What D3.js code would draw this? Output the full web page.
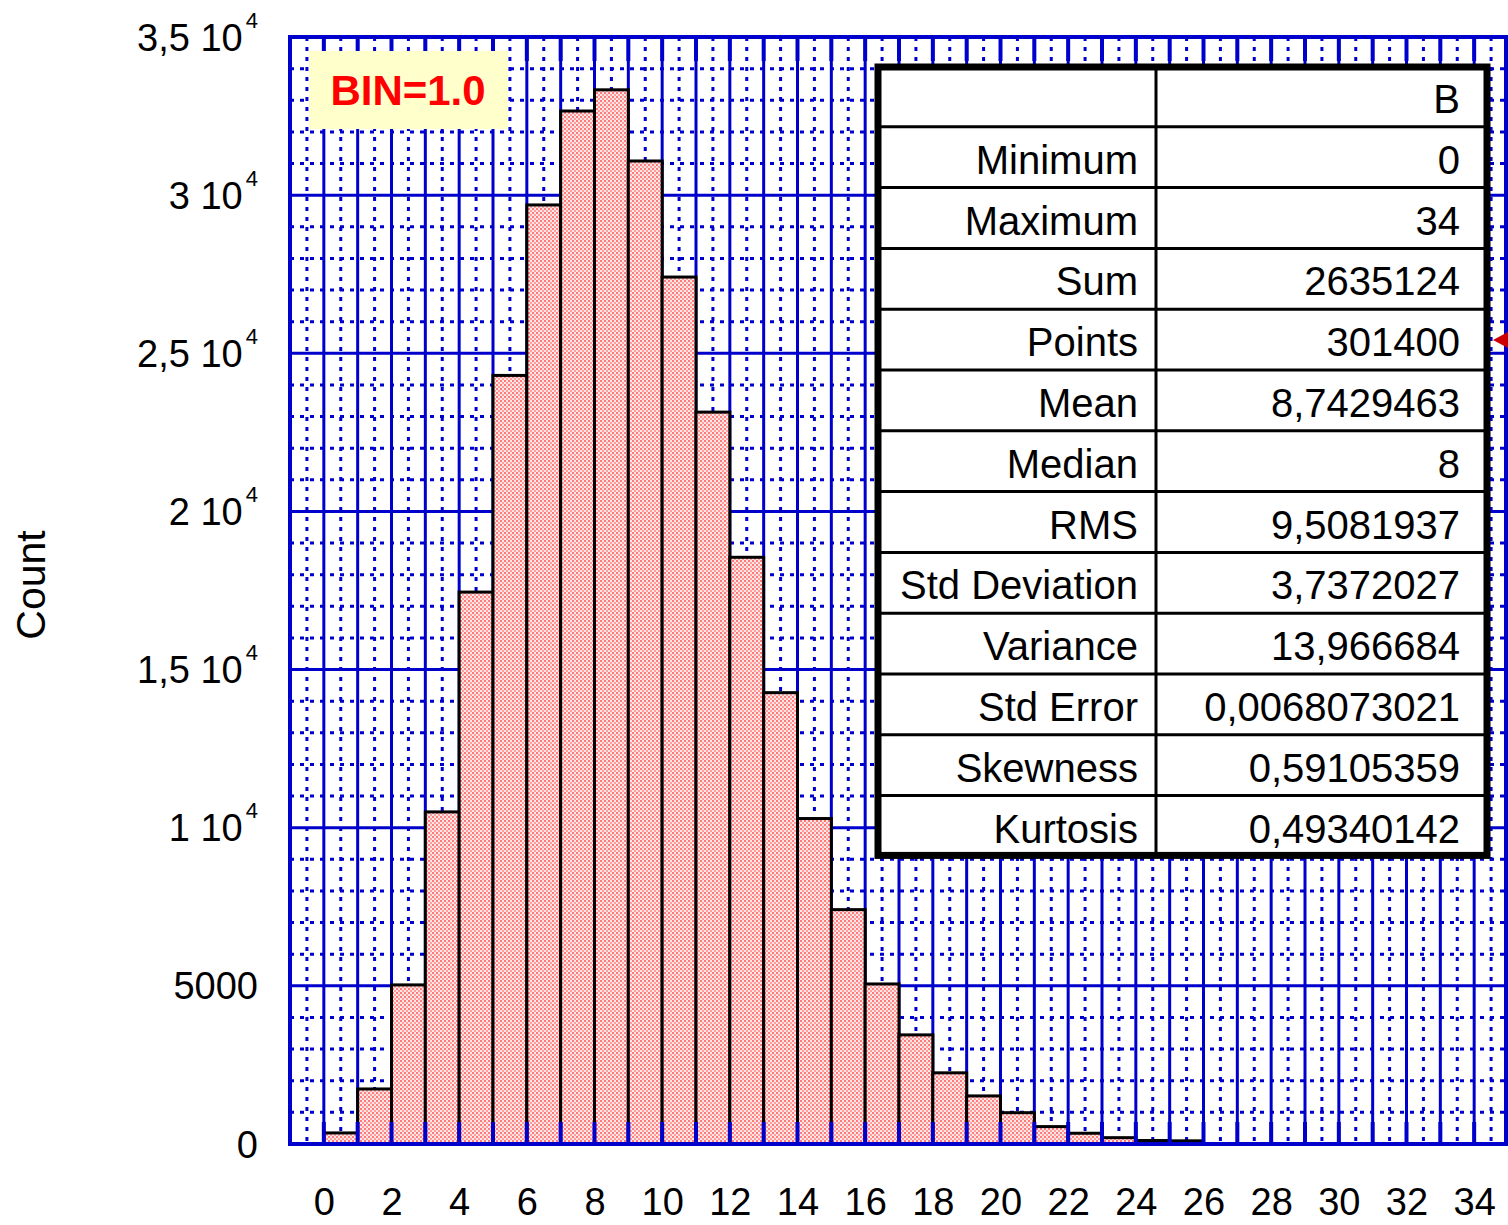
<!DOCTYPE html>
<html>
<head>
<meta charset="utf-8">
<script src="https://cdn.jsdelivr.net/npm/d3@7"></script>
<style>
  html, body { margin: 0; padding: 0; background: #fff; }
  svg { display: block; font-family: "Liberation Sans", Arial, sans-serif; }
</style>
</head>
<body>
<svg id="chart" width="1508" height="1225"></svg>
<script>
// ---- data ----
const binStarts = d3.range(0, 35);            // bins [k, k+1)
const counts = [350, 1740, 5030, 10500, 17450, 24300, 29690, 32660, 33330, 31080,
                27410, 23140, 18550, 14270, 10290, 7410, 5060, 3450, 2250, 1520,
                990, 550, 340, 200, 110, 100, 0, 0, 0, 0, 0, 0, 0, 0, 0];
const xTickValues = d3.range(0, 35, 2);
const yTickValues = [0, 5000, 10000, 15000, 20000, 25000, 30000, 35000];
const statLabels = ["", "Minimum", "Maximum", "Sum", "Points", "Mean", "Median", "RMS",
                    "Std Deviation", "Variance", "Std Error", "Skewness", "Kurtosis"];
const statValues = ["B", "0", "34", "2635124", "301400", "8,7429463", "8", "9,5081937",
                    "3,7372027", "13,966684", "0,0068073021", "0,59105359", "0,49340142"];
const binLabel = "BIN=1.0";
const yTitle = "Count";

// ---- layout ----
const svg = d3.select("#chart");
const pL = 290, pR = 1508, pT = 37, pB = 1144;
const x = d3.scaleLinear().domain([-1, 35]).range([pL, pR]);
const y = d3.scaleLinear().domain([0, 35000]).range([pB, pT]);
const blue = "#0000cc";

// pattern for bars
const defs = svg.append("defs");
const pat = defs.append("pattern").attr("id", "check").attr("patternUnits", "userSpaceOnUse")
  .attr("width", 4).attr("height", 4);
pat.append("rect").attr("width", 4).attr("height", 4).attr("fill", "#ffe6e6");
pat.append("rect").attr("x", 0).attr("y", 0).attr("width", 2).attr("height", 2).attr("fill", "#ff7a7a");
pat.append("rect").attr("x", 2).attr("y", 2).attr("width", 2).attr("height", 2).attr("fill", "#ff9c9c");

// ---- grid ----
const g = svg.append("g");
g.selectAll(".vminor").data(d3.range(-0.5, 35, 1)).join("line")
  .attr("x1", d => x(d)).attr("x2", d => x(d)).attr("y1", pT).attr("y2", pB)
  .attr("stroke", blue).attr("stroke-width", 3).attr("stroke-dasharray", "4,6");
g.selectAll(".hminor").data(d3.range(1000, 35000, 1000).filter(v => v % 5000 !== 0)).join("line")
  .attr("x1", pL).attr("x2", pR).attr("y1", d => y(d)).attr("y2", d => y(d))
  .attr("stroke", blue).attr("stroke-width", 3).attr("stroke-dasharray", "4,6");
g.selectAll(".vmajor").data(d3.range(0, 35)).join("line")
  .attr("x1", d => x(d)).attr("x2", d => x(d)).attr("y1", pT).attr("y2", pB)
  .attr("stroke", blue).attr("stroke-width", 3);
g.selectAll(".hmajor").data(yTickValues.slice(1, -1)).join("line")
  .attr("x1", pL).attr("x2", pR).attr("y1", d => y(d)).attr("y2", d => y(d))
  .attr("stroke", blue).attr("stroke-width", 3);

// ---- bars ----
const bins = binStarts.map((b, i) => ({ x0: b, x1: b + 1, v: counts[i] })).filter(d => d.v > 0);
svg.append("g").selectAll("rect").data(bins).join("rect")
  .attr("x", d => x(d.x0)).attr("width", d => x(d.x1) - x(d.x0))
  .attr("y", d => y(d.v)).attr("height", d => y(0) - y(d.v))
  .attr("fill", "url(#check)").attr("stroke", "#000").attr("stroke-width", 3);

// ---- inward ticks ----
const ticks = svg.append("g");
ticks.selectAll(".tb").data(d3.range(0, 35)).join("line")
  .attr("x1", d => x(d)).attr("x2", d => x(d)).attr("y1", pB).attr("y2", pB - 22)
  .attr("stroke", blue).attr("stroke-width", 4);
ticks.selectAll(".tt").data(d3.range(0, 35)).join("line")
  .attr("x1", d => x(d)).attr("x2", d => x(d)).attr("y1", pT).attr("y2", pT + 24)
  .attr("stroke", blue).attr("stroke-width", 4);

// ---- frame ----
svg.append("rect").attr("x", pL).attr("y", pT).attr("width", pR - pL - 2).attr("height", pB - pT)
  .attr("fill", "none").attr("stroke", blue).attr("stroke-width", 4);

// ---- axes labels ----
const xAxis = d3.axisBottom(x).tickValues(xTickValues).tickSize(0).tickFormat(d3.format("d"));
const xg = svg.append("g").attr("transform", `translate(0,${pB})`).call(xAxis);
xg.select(".domain").remove();
xg.selectAll("text").attr("font-size", 38).attr("fill", "#000")
  .attr("font-family", "Liberation Sans, Arial, sans-serif").attr("dy", null).attr("y", 71);

const yAxis = d3.axisLeft(y).tickValues(yTickValues).tickSize(0).tickFormat("");
const yg = svg.append("g").attr("transform", `translate(${pL},0)`).call(yAxis);
yg.select(".domain").remove();
yg.selectAll(".tick").each(function(v) {
  const t = d3.select(this).select("text")
    .attr("x", -32).attr("dy", null).attr("y", 13)
    .attr("font-size", 38).attr("fill", "#000").attr("text-anchor", "end")
    .attr("font-family", "Liberation Sans, Arial, sans-serif");
  if (v < 10000) {
    t.text(String(v));
  } else {
    const m = String(v / 10000).replace(".", ",");
    t.append("tspan").text(m + " 10");
    t.append("tspan").attr("font-size", 22).attr("dx", 3).attr("dy", -23).text("4");
  }
});

svg.append("text").attr("transform", "translate(45,585) rotate(-90)")
  .attr("text-anchor", "middle").attr("font-size", 41).attr("fill", "#000").text(yTitle);

// ---- BIN box ----
svg.append("rect").attr("x", 309).attr("y", 51).attr("width", 199).attr("height", 78).attr("fill", "#ffffcc");
svg.append("text").attr("x", 408).attr("y", 105).attr("text-anchor", "middle")
  .attr("font-size", 42).attr("font-weight", "bold").attr("fill", "#ff0000").text(binLabel);

// ---- stats table ----
const tL = 878, tR = 1487, tT = 67, rowH = 60.8, colX = 1156;
const nRows = statLabels.length;
const tB = tT + nRows * rowH - 2;
const tbl = svg.append("g");
tbl.append("rect").attr("x", tL).attr("y", tT).attr("width", tR - tL).attr("height", tB - tT).attr("fill", "#fff");
tbl.selectAll(".rl").data(d3.range(1, nRows)).join("line")
  .attr("x1", tL).attr("x2", tR).attr("y1", i => tT + i * rowH - 1).attr("y2", i => tT + i * rowH - 1)
  .attr("stroke", "#000").attr("stroke-width", 3);
tbl.append("line").attr("x1", colX).attr("x2", colX).attr("y1", tT).attr("y2", tB)
  .attr("stroke", "#000").attr("stroke-width", 3);
tbl.append("rect").attr("x", tL).attr("y", tT).attr("width", tR - tL).attr("height", tB - tT)
  .attr("fill", "none").attr("stroke", "#000").attr("stroke-width", 7);
tbl.selectAll(".lab").data(statLabels).join("text")
  .attr("x", 1138).attr("y", (d, i) => tT + i * rowH + 46)
  .attr("text-anchor", "end").attr("font-size", 40).attr("fill", "#000").text(d => d);
tbl.selectAll(".val").data(statValues).join("text")
  .attr("x", 1460).attr("y", (d, i) => tT + i * rowH + 46)
  .attr("text-anchor", "end").attr("font-size", 40).attr("fill", "#000").text(d => d);

// ---- red marker at right edge ----
svg.append("path").attr("d", d3.line()([[1493, 340], [1508, 332], [1508, 348]]) + "Z")
  .attr("fill", "#cc0000");
</script>
</body>
</html>
